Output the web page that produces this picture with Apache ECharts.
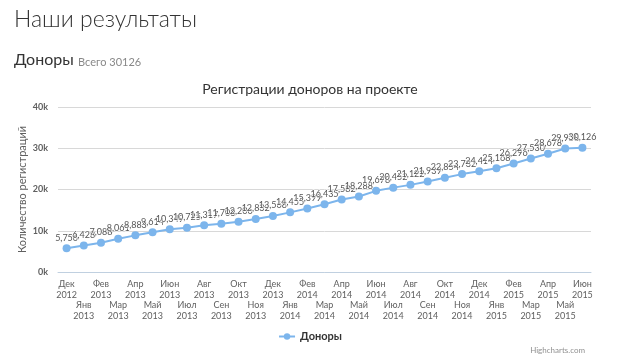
<!DOCTYPE html>
<html><head><meta charset="utf-8">
<script src="https://cdn.jsdelivr.net/npm/echarts@6/dist/echarts.min.js"></script>
<style>html,body{margin:0;padding:0;background:#fff}#c{width:620px;height:361px}</style>
</head><body><div id="c"></div>
<script>
const categories = [
'Дек 2012','Янв 2013','Фев 2013','Мар 2013','Апр 2013','Май 2013','Июн 2013','Июл 2013','Авг 2013','Сен 2013','Окт 2013','Ноя 2013',
'Дек 2013','Янв 2014','Фев 2014','Мар 2014','Апр 2014','Май 2014','Июн 2014','Июл 2014','Авг 2014','Сен 2014','Окт 2014','Ноя 2014',
'Дек 2014','Янв 2015','Фев 2015','Мар 2015','Апр 2015','Май 2015','Июн 2015'];
const donors = [5756,6428,7088,8061,8883,9614,10349,10725,11317,11703,12206,12832,13568,14455,15399,16435,17582,18288,19678,20452,21122,21939,22854,23732,24414,25168,26296,27530,28678,29958,30126];
const yTicks = [0,10000,20000,30000,40000];

const chart = echarts.init(document.getElementById('c'));
const F = 'Lato, "DejaVu Sans", sans-serif';
chart.setOption({
  animation:false,
  title:[
    {text:'Наши результаты',left:9,top:3,textStyle:{fontFamily:'Lato, sans-serif',fontWeight:300,fontSize:23,color:'#333'}},
    {text:'Доноры',left:9,top:47,textStyle:{fontFamily:'Lato, sans-serif',fontWeight:400,fontSize:16,color:'#333'}},
    {text:'Всего 30126',left:73,top:52,textStyle:{fontFamily:'Lato, sans-serif',fontWeight:400,fontSize:11,color:'#888'}},
    {text:'Регистрации доноров на проекте',left:'center',top:77,textStyle:{fontFamily:F,fontWeight:'normal',fontSize:14,color:'#333'}},
    {text:'Highcharts.com',right:30,top:341,textStyle:{fontFamily:F,fontWeight:'normal',fontSize:8,color:'#909090'}}
  ],
  legend:{data:['Доноры'],bottom:14,left:'center',itemWidth:16,itemHeight:8,
    textStyle:{fontFamily:F,fontWeight:'bold',fontSize:11,color:'#333'}},
  grid:{left:58,right:29,top:107,bottom:89},
  xAxis:{type:'category',data:categories,boundaryGap:true,
    axisLine:{lineStyle:{color:'#c0d0e0'}},axisTick:{lineStyle:{color:'#c0d0e0'},length:8},
    axisLabel:{interval:0,fontFamily:F,fontSize:9,color:'#606060',lineHeight:10.5,margin:7,
      formatter:(v,i)=>{const p=v.split(' ');return (i%2? '\n\n':'')+p[0]+'\n'+p[1];}}},
  yAxis:{type:'value',min:yTicks[0],max:yTicks[yTicks.length-1],interval:10000,
    name:'Количество регистраций',nameLocation:'middle',nameGap:30,nameMoveOverlap:false,
    nameTextStyle:{fontFamily:F,fontSize:11,color:'#606060'},
    axisLabel:{fontFamily:F,fontSize:9,fontWeight:'bold',color:'#606060',margin:10,formatter:v=>(v/1000)+'k'},
    splitLine:{lineStyle:{color:'#d8d8d8'}},axisLine:{show:false},axisTick:{show:false}},
  series:[{name:'Доноры',type:'line',data:donors,symbol:'circle',symbolSize:8,
    itemStyle:{color:'#7cb5ec'},lineStyle:{color:'#7cb5ec',width:2},
    label:{show:true,position:'top',distance:2,fontFamily:F,fontSize:9,color:'#555',
      textBorderColor:'#fff',textBorderWidth:1,
      formatter:p=>p.value.toLocaleString('en-US')}}]
});
</script></body></html>
